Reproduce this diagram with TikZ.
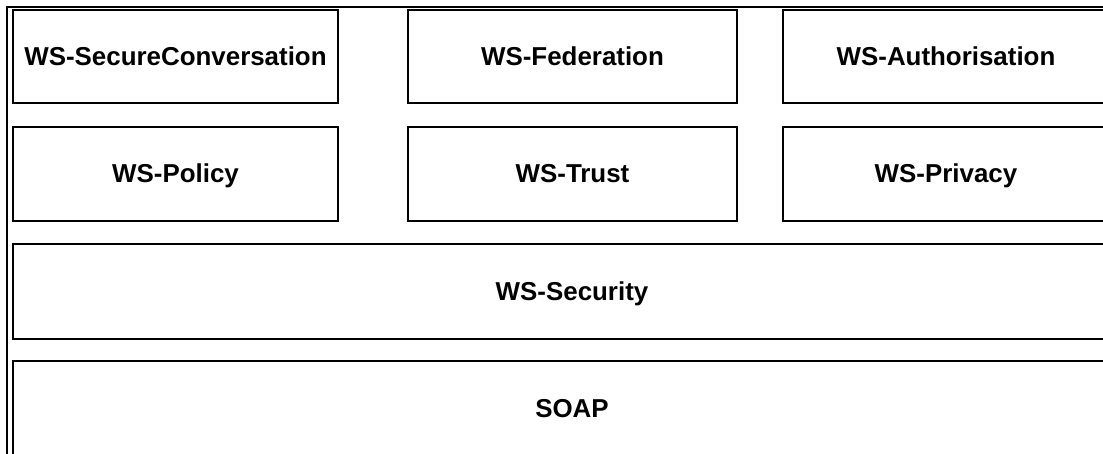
\documentclass[tikz,border=0pt]{standalone}
\usepackage{fontspec}
\setmainfont{Liberation Sans}
\usetikzlibrary{positioning}

\tikzset{
  layer/.style={draw, line width=2bp, minimum height=93bp, inner sep=0pt,
    text height=18bp, text depth=0pt,
    font=\fontsize{26}{30}\selectfont\bfseries},
  spec/.style={layer, minimum width=325bp},
  base/.style={layer, minimum width=1118bp}
}

\begin{document}
\begin{tikzpicture}[x=1bp,y=-1bp]
    \clip (0,0) rectangle (1103,454);

    % Outer frame
    \draw[line width=2bp] (7,470) -- (7,7) -- (1120,7);

    % Top row
    \node[spec] (conv) at (175.5,57) {WS-SecureConversation};
    \node[spec, minimum width=329bp] (fed) at (572.5,57) {WS-Federation};
    \node[spec, minimum width=326bp] (auth) at (946,57) {WS-Authorisation};

    % Second row
    \node[spec, minimum height=94bp] (policy) at (175.5,174) {WS-Policy};
    \node[spec, minimum width=329bp, minimum height=94bp] (trust) at (572.5,174) {WS-Trust};
    \node[spec, minimum width=326bp, minimum height=94bp] (privacy) at (946,174) {WS-Privacy};

    % Base layers
    \node[base, minimum height=95bp] (security) at (572,291.5) {WS-Security};
    \node[base, minimum height=95bp] (soap) at (572,408.5) {SOAP};
\end{tikzpicture}
\end{document}
